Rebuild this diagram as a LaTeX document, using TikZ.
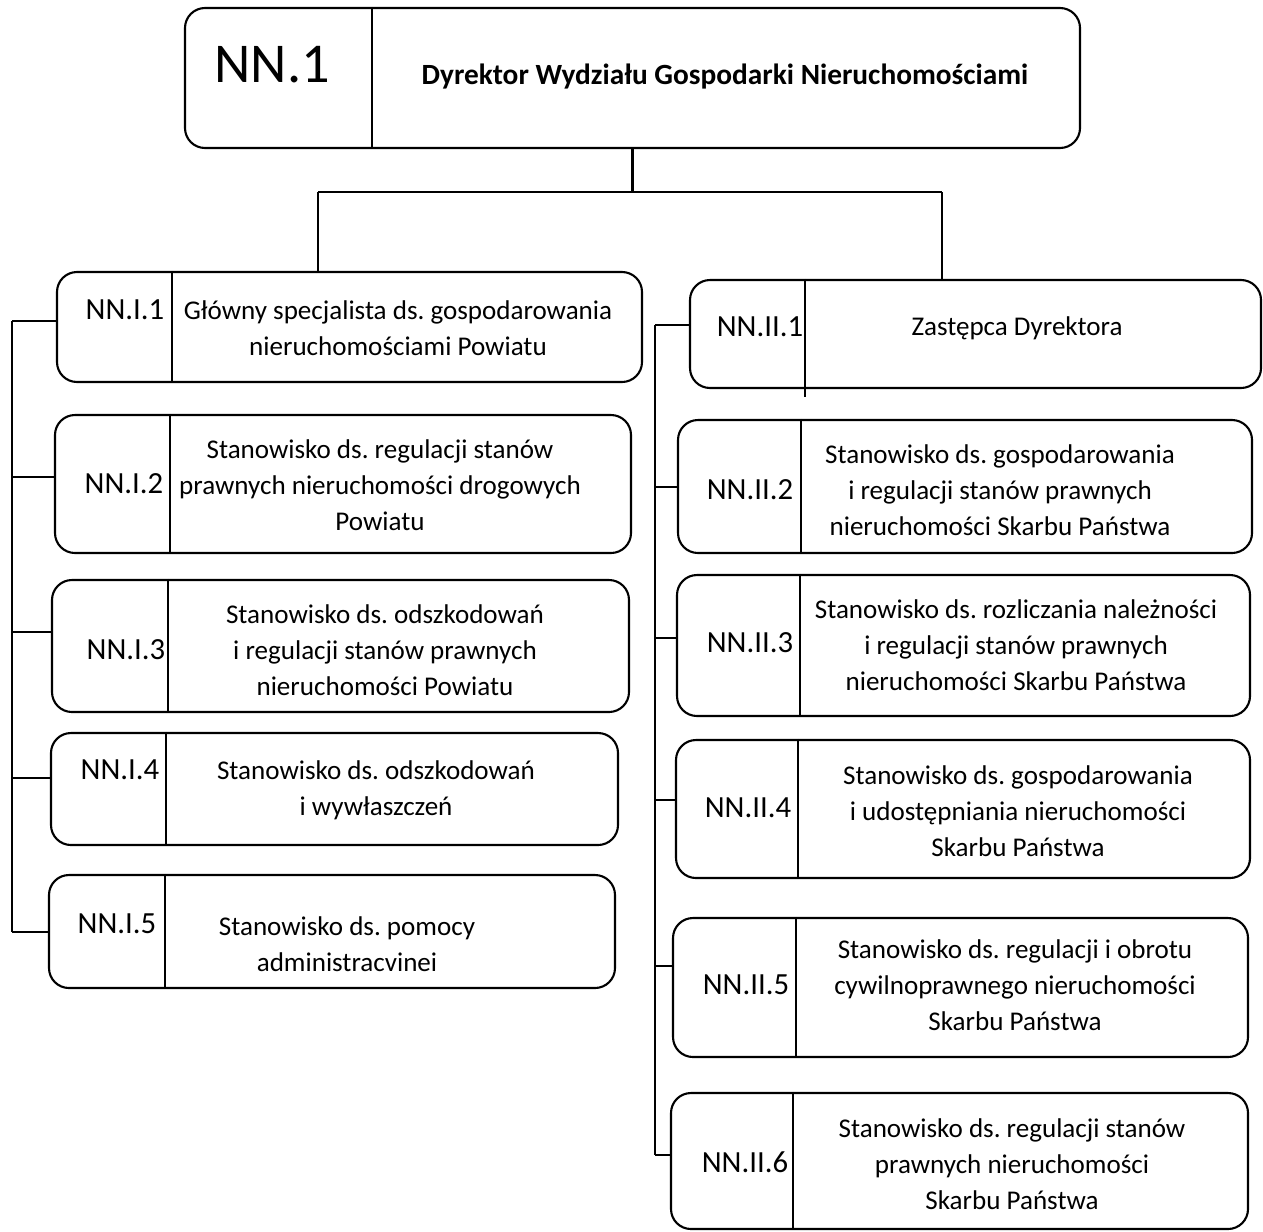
\documentclass[tikz,border=0pt]{standalone}
\usepackage{fontspec}
\setmainfont{Carlito}
\usetikzlibrary{fit}
\frenchspacing

\begin{document}
\begin{tikzpicture}[x=0.02cm, y=-0.02cm,
    posbox/.style={draw, line width=1.2pt, rounded corners=0.4cm, inner sep=0pt},
    posnum/.style={inner sep=0pt, font=\fontsize{17.5}{21}\selectfont},
    postext/.style={inner sep=0pt, align=center, font=\fontsize{15.4}{20.6}\selectfont},
    link/.style={line width=1.2pt}]

	\useasboundingbox (0,0) rectangle (1263,1231);

	% dyrektor
	\node[posbox, fit={(185,8) (1080,148)}] (top) {};
	\node[inner sep=0pt, font=\fontsize{32}{38}\selectfont] (topnum) at (272,65) {NN.1};
	\node[inner sep=0pt, font=\bfseries\fontsize{16.7}{20}\selectfont] (toptext) at (725,77) {Dyrektor Wydziału Gospodarki Nieruchomościami};

	% lewa kolumna
	\node[posbox, fit={(57,272) (642,382)}] (l1) {};
	\node[posbox, fit={(55,415) (631,553)}] (l2) {};
	\node[posbox, fit={(52,580) (629,712)}] (l3) {};
	\node[posbox, fit={(51,733) (618,845)}] (l4) {};
	\node[posbox, fit={(49,875) (615,988)}] (l5) {};

	\node[posnum] (l1num) at (125,310) {NN.I.1};
	\node[posnum] (l2num) at (124,484) {NN.I.2};
	\node[posnum] (l3num) at (126,650) {NN.I.3};
	\node[posnum] (l4num) at (120,770) {NN.I.4};
	\node[posnum] (l5num) at (117,924) {NN.I.5};

	\node[postext] (l1text) at (398,328) {Główny specjalista ds. gospodarowania\\nieruchomościami Powiatu};
	\node[postext] (l2text) at (380,485) {Stanowisko ds. regulacji stanów\\prawnych nieruchomości drogowych\\Powiatu};
	\node[postext] (l3text) at (385,650) {Stanowisko ds. odszkodowań\\i regulacji stanów prawnych\\nieruchomości Powiatu};
	\node[postext] (l4text) at (376,790) {Stanowisko ds. odszkodowań\\i wywłaszczeń};
	\node[postext] (l5text) at (347,944) {Stanowisko ds. pomocy\\administracvinei};

	% prawa kolumna
	\node[posbox, fit={(690,280) (1261,388)}] (r1) {};
	\node[posbox, fit={(678,420) (1252,553)}] (r2) {};
	\node[posbox, fit={(677,575) (1250,716)}] (r3) {};
	\node[posbox, fit={(676,740) (1250,878)}] (r4) {};
	\node[posbox, fit={(673,918) (1248,1057)}] (r5) {};
	\node[posbox, fit={(671,1093) (1248,1229)}] (r6) {};

	\node[posnum] (r1num) at (760,327) {NN.II.1};
	\node[posnum] (r2num) at (750,490) {NN.II.2};
	\node[posnum] (r3num) at (750,643) {NN.II.3};
	\node[posnum] (r4num) at (748,808) {NN.II.4};
	\node[posnum] (r5num) at (746,985) {NN.II.5};
	\node[posnum] (r6num) at (745,1162) {NN.II.6};

	\node[postext] (r1text) at (1017,328) {Zastępca Dyrektora};
	\node[postext] (r2text) at (1000,490) {Stanowisko ds. gospodarowania\\i regulacji stanów prawnych\\nieruchomości Skarbu Państwa};
	\node[postext] (r3text) at (1016,645) {Stanowisko ds. rozliczania należności\\i regulacji stanów prawnych\\nieruchomości Skarbu Państwa};
	\node[postext] (r4text) at (1018,811) {Stanowisko ds. gospodarowania\\i udostępniania nieruchomości\\Skarbu Państwa};
	\node[postext] (r5text) at (1015,985) {Stanowisko ds. regulacji i obrotu\\cywilnoprawnego nieruchomości\\Skarbu Państwa};
	\node[postext] (r6text) at (1012,1164) {Stanowisko ds. regulacji stanów\\prawnych nieruchomości\\Skarbu Państwa};

	% pionowe kreski w ramkach
	\foreach \b/\x in {top/372, l1/172, l2/170, l3/168, l4/166, l5/165, r2/801, r3/800, r4/798, r5/796, r6/793}
	{
		\draw[link] (\b.north -| \x,0) -- (\b.south -| \x,0);
	}
	\draw[link] (r1.north -| 805,0) -- (805,397);

	% polaczenia
	\coordinate (jl) at (318,192);
	\coordinate (jr) at (942,192);
	\draw[link] (top.south) -- (top.south |- jl);
	\draw[link] (jl) -- (jr);
	\draw[link] (jl) -- (jl |- l1.north);
	\draw[link] (jr) -- (jr |- r1.north);

	\coordinate (ltop) at (12,321);
	\coordinate (lbot) at (12,932);
	\draw[link] (ltop) -- (lbot);
	\foreach \b/\y in {l1/321, l2/477, l3/632, l4/778, l5/932}
	{
		\draw[link] (ltop |- 0,\y) -- (\b.west |- 0,\y);
	}

	\coordinate (rtop) at (655,325);
	\coordinate (rbot) at (655,1155);
	\draw[link] (rtop) -- (rbot);
	\foreach \b/\y in {r1/325, r2/487, r3/638, r4/800, r5/966, r6/1155}
	{
		\draw[link] (rtop |- 0,\y) -- (\b.west |- 0,\y);
	}
\end{tikzpicture}
\end{document}
